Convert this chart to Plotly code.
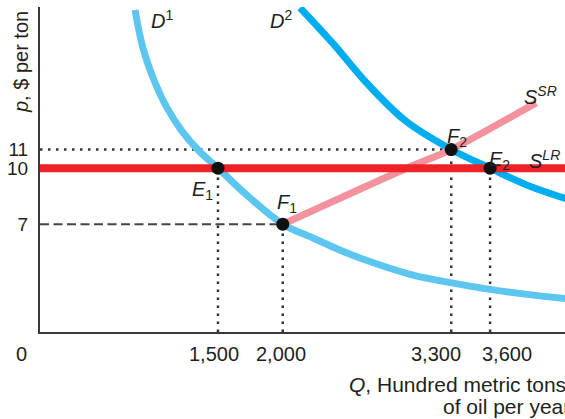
import plotly.graph_objects as go

# ---- data ----
# Demand curve D1 (quantity, price)
d1_q = [860, 921, 1006, 1107, 1222, 1354, 1500, 1740, 2000, 2233, 2496, 2750, 3005, 3314, 3584, 3869, 4140, 4220]
d1_p = [18.48, 16.44, 14.73, 13.23, 11.99, 10.92, 10, 8.45, 7, 6.26, 5.45, 4.81, 4.27, 3.84, 3.52, 3.25, 3.04, 2.99]
# Demand curve D2
d2_q = [2133, 2387, 2650, 2952, 3300, 3600, 3882, 4139, 4220]
d2_p = [18.6, 16.69, 14.55, 12.51, 11, 10, 9.10, 8.47, 8.3]
# Short-run supply S^SR
ssr_q = [2000, 2955, 3300, 3955]
ssr_p = [7, 10, 11, 13.5]
# Long-run supply S^LR (horizontal at price 10)
slr_price = 10
# Equilibrium points
pt_names = ["E1", "F1", "F2", "E2"]
pt_q = [1500, 2000, 3300, 3600]
pt_p = [10, 7, 11, 10]
# Axis ticks
x_ticks = [1500, 2000, 3300, 3600]
x_tick_text = ["1,500", "2,000", "3,300", "3,600"]
y_ticks = [7, 10, 11]
y_tick_text = ["7", "10", "11"]

X_RANGE = [126.6, 4178]
Y_RANGE = [1.22, 18.64]

FONT = "Liberation Sans, Arial, Helvetica, sans-serif"
TXT = "#231F20"

fig = go.Figure()

# guide lines
dot = dict(color="#333333", width=2.5, dash="2.5px,5.5px")
dash = dict(color="#444444", width=2, dash="9px,4.5px")
fig.add_trace(go.Scatter(x=[X_RANGE[0], pt_q[2]], y=[pt_p[2], pt_p[2]], mode="lines", line=dot))
fig.add_trace(go.Scatter(x=[X_RANGE[0], pt_q[1]], y=[pt_p[1], pt_p[1]], mode="lines", line=dash))
for q, p in zip(pt_q, pt_p):
    fig.add_trace(go.Scatter(x=[q, q], y=[Y_RANGE[0], p], mode="lines", line=dot))

# curves
fig.add_trace(go.Scatter(x=d1_q, y=d1_p, mode="lines", line=dict(color="#5CC6F0", width=7, shape="spline", smoothing=1.0)))
fig.add_trace(go.Scatter(x=d2_q, y=d2_p, mode="lines", line=dict(color="#00ADEE", width=7, shape="spline", smoothing=1.0)))
fig.add_trace(go.Scatter(x=ssr_q, y=ssr_p, mode="lines", line=dict(color="#F3929D", width=7, shape="spline", smoothing=0.6)))
fig.add_trace(go.Scatter(x=[X_RANGE[0], 4300], y=[slr_price, slr_price], mode="lines", line=dict(color="#EC2227", width=8)))

# points
fig.add_trace(go.Scatter(x=pt_q, y=pt_p, mode="markers", marker=dict(color="#111111", size=13)))

def lab(x, y, text, xanchor="left", xshift=0, yshift=0, xref="x", yref="y", size=20):
    fig.add_annotation(x=x, y=y, xref=xref, yref=yref, text=text, showarrow=False,
                       xanchor=xanchor, yanchor="middle", xshift=xshift, yshift=yshift,
                       font=dict(size=size, color=TXT, family=FONT))

lab(968, 17.95, "<i>D</i><sup>1</sup>")
lab(1886, 17.95, "<i>D</i><sup>2</sup>")
lab(3846, 13.92, "<i>S<sup>SR</sup></i>")
lab(3885, 10.49, "<i>S<sup>LR</sup></i>")
lab(3252, 11.66, "<i>F</i><sub>2</sub>")
lab(3576, 10.43, "<i>E</i><sub>2</sub>")
lab(1284, 8.81, "<i>E</i><sub>1</sub>")
lab(1940, 8.13, "<i>F</i><sub>1</sub>")

# x tick labels (placed as in the reference)
TICK_Y = -0.068
lab(-0.0343, TICK_Y, "0", xanchor="center", xref="paper", yref="paper")
lab(x_ticks[0], TICK_Y, x_tick_text[0], xanchor="center", xshift=-4, yref="paper")
lab(x_ticks[1], TICK_Y, x_tick_text[1], xanchor="center", xshift=-2, yref="paper")
lab(x_ticks[2], TICK_Y, x_tick_text[2], xanchor="right", xshift=12, yref="paper")
lab(x_ticks[3], TICK_Y, x_tick_text[3], xanchor="left", xshift=-10, yref="paper")

# axis titles
fig.add_annotation(x=-0.036, y=0.831, xref="paper", yref="paper", text="<i>p</i>, $ per ton",
                   textangle=-90, showarrow=False, xanchor="center", yanchor="middle",
                   font=dict(size=20, color=TXT, family=FONT))
lab(1.0, -0.163, "<i>Q</i>, Hundred metric tons", xanchor="right", xshift=3,
    xref="paper", yref="paper", size=21)
lab(1.0, -0.228, "of oil per year", xanchor="right", xshift=7,
    xref="paper", yref="paper", size=21)

fig.update_layout(
    width=565, height=419,
    margin=dict(l=40, r=0, t=7, b=87),
    paper_bgcolor="white", plot_bgcolor="white",
    showlegend=False, hovermode=False,
    font=dict(family=FONT, size=20, color=TXT),
    xaxis=dict(range=X_RANGE, showgrid=False, zeroline=False, showline=True,
               linecolor="#3A3A3A", linewidth=2, tickmode="array", tickvals=x_ticks,
               ticktext=x_tick_text, ticks="", showticklabels=False, automargin=False),
    yaxis=dict(range=Y_RANGE, showgrid=False, zeroline=False, showline=True,
               linecolor="#3A3A3A", linewidth=2, tickmode="array", tickvals=y_ticks,
               ticktext=y_tick_text, ticks="", ticklabelstandoff=6, automargin=False,
               tickfont=dict(size=19)),
)

fig.write_html("out.html", config={"displayModeBar": False},
               post_script="document.body.style.margin='0';document.body.style.overflow='hidden';")
